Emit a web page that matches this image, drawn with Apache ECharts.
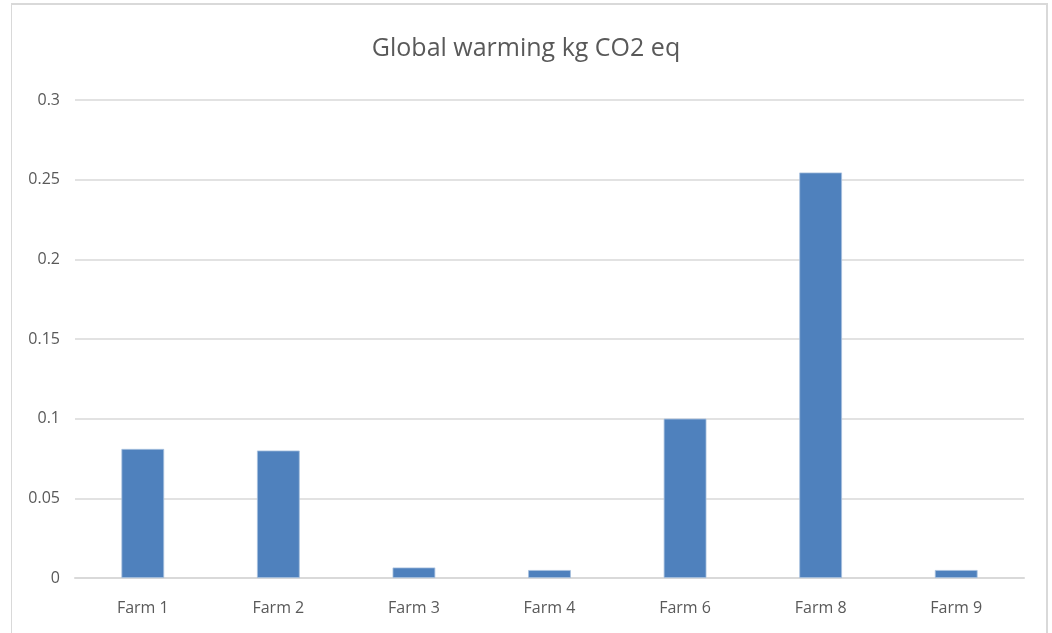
<!DOCTYPE html>
<html>
<head>
<meta charset="utf-8">
<script src="https://cdn.jsdelivr.net/npm/echarts@6/dist/echarts.min.js"></script>
<style>
    html, body { margin: 0; padding: 0; background: #fff; overflow: hidden; }
    #frame {
        position: absolute; left: 11px; top: 3px;
        width: 1037px; height: 640px;
        border-top: 2px solid #d9d9d9;
        border-right: 2px solid #d9d9d9;
        border-left: 1px solid #d9d9d9;
        box-sizing: border-box;
    }
    #chart { position: absolute; left: 0; top: 0; width: 1052px; height: 633px; }
</style>
</head>
<body>
<div id="frame"></div>
<div id="chart"></div>
<script>
const categories = ["Farm 1", "Farm 2", "Farm 3", "Farm 4", "Farm 6", "Farm 8", "Farm 9"];
const values = [0.081, 0.080, 0.0066, 0.005, 0.100, 0.2545, 0.005];
const yTicks = [0, 0.05, 0.1, 0.15, 0.2, 0.25, 0.3];

const chart = echarts.init(document.getElementById("chart"));
const font = '"Liberation Sans Narrow", "Open Sans", sans-serif';

chart.setOption({
    animation: false,
    title: {
        text: "Global warming kg CO2 eq",
        left: "center",
        top: 31,
        textStyle: { fontFamily: font, fontSize: 25, fontWeight: "normal", color: "#595959" },
    },
    grid: { left: 75, right: 28, top: 100, bottom: 55 },
    xAxis: {
        type: "category",
        data: categories,
        axisTick: { show: false },
        axisLine: { lineStyle: { color: "#d9d9d9", width: 2 } },
        axisLabel: { fontFamily: font, fontSize: 16, color: "#595959", margin: 22 },
    },
    yAxis: {
        type: "value",
        min: yTicks[0],
        max: yTicks[yTicks.length - 1],
        interval: 0.05,
        axisLabel: {
            fontFamily: font, fontSize: 16, color: "#595959", margin: 15,
            formatter: (v) => String(Math.round(v * 100) / 100),
        },
        splitLine: { lineStyle: { color: "#d9d9d9", width: 1.5 } },
    },
    series: [{
        type: "bar",
        data: values,
        barWidth: "31.5%",
        itemStyle: { color: "#4f81bd", borderColor: "#a7c0de", borderWidth: 0.8 },
    }],
});
</script>
</body>
</html>
